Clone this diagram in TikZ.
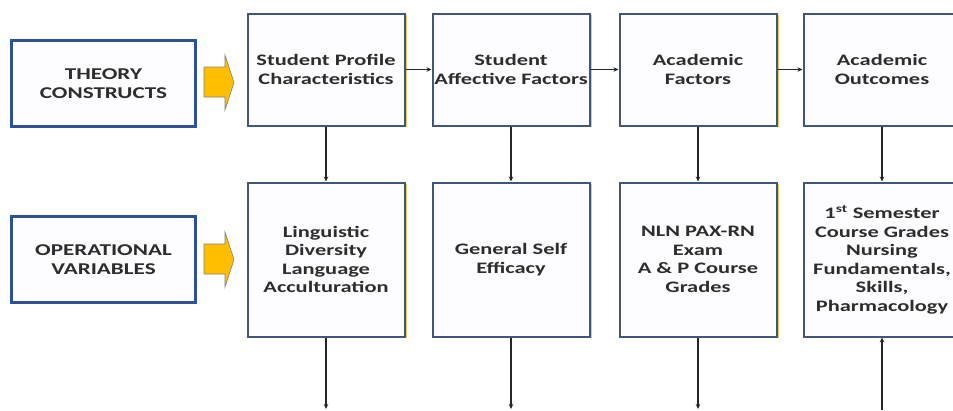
\documentclass[tikz,border=0pt]{standalone}
\usepackage{fontspec}
\setmainfont[FakeStretch=1.4]{Carlito}
\usetikzlibrary{arrows.meta,shadows}
\definecolor{boxblue}{RGB}{65,85,125}
\definecolor{headblue}{RGB}{45,80,150}
\definecolor{boxfill}{RGB}{253,253,255}
\definecolor{shadowgold}{RGB}{235,205,80}
\definecolor{arrowgold}{RGB}{255,190,0}
\definecolor{textgray}{RGB}{45,45,45}

\begin{document}
\begin{tikzpicture}[x=1pt,y=-1pt, line join=miter]

\tikzset{
  headbox/.style={draw=headblue, fill=boxfill, line width=3.2pt, minimum width=184pt, minimum height=86pt, inner sep=0pt, align=center, text=textgray, font=\bfseries\fontsize{16.5}{18.5}\selectfont},
  topbox/.style={draw=boxblue, fill=boxfill, line width=2pt, minimum width=157pt, minimum height=112pt, inner sep=0pt, align=center, text=textgray, font=\bfseries\fontsize{16}{18.5}\selectfont, drop shadow={shadow xshift=2pt, shadow yshift=-1.5pt, fill=shadowgold, opacity=1}},
  varbox/.style={topbox, minimum height=154pt},
  link/.style={-{Stealth[length=5pt,width=4.5pt]}, line width=1.8pt, black!85},
  blockarrow/.style={draw=gray, fill=arrowgold, line width=0.6pt}
}

\useasboundingbox (0,0) rectangle (953,410);

\node[headbox] (theory) at (103.5,83.5) {THEORY\\CONSTRUCTS};
\node[headbox] (oper) at (103.5,259.5) {OPERATIONAL\\VARIABLES};

\draw[blockarrow] (204,67) -- (225,67) -- (225,55) -- (234,82.5) -- (225,110) -- (225,97) -- (204,97) -- cycle;
\draw[blockarrow, shift={(0,177)}] (204,67) -- (225,67) -- (225,55) -- (234,82.5) -- (225,110) -- (225,97) -- (204,97) -- cycle;

\node[topbox] (t1) at (326,69.5) {Student Profile\\Characteristics};
\node[topbox] (t2) at (511,69.5) {Student\\Affective Factors};
\node[topbox] (t3) at (698,69.5) {Academic\\Factors};
\node[topbox] (t4) at (882,69.5) {Academic\\Outcomes};

\node[varbox] (v1) at (326,259.5) {Linguistic\\Diversity\\Language\\Acculturation};
\node[varbox] (v2) at (511,259.5) {General Self\\Efficacy};
\node[varbox] (v3) at (698,259.5) {NLN PAX-RN\\Exam\\A \& P Course\\Grades};
\node[varbox] (v4) at (882,259.5) {1\textsuperscript{st} Semester\\Course Grades\\Nursing\\Fundamentals,\\Skills,\\Pharmacology};

\draw[link] (t1.east) -- (t2.west);
\draw[link] (t2.east) -- (t3.west);
\draw[link] (t3.east) -- (t4.west);

\draw[link] (t1.south) -- (v1.north);
\draw[link] (t2.south) -- (v2.north);
\draw[link] (t3.south) -- (v3.north);
\draw[link] (t4.south) -- (v4.north);

\coordinate (e1) at (326,409);
\coordinate (e2) at (511,409);
\coordinate (e3) at (698,409);
\coordinate (e4) at (882,410);

\draw[link] (v1.south) -- (e1);
\draw[link] (v2.south) -- (e2);
\draw[link] (v3.south) -- (e3);
\draw[link] (e4) -- (v4.south);

\end{tikzpicture}
\end{document}
